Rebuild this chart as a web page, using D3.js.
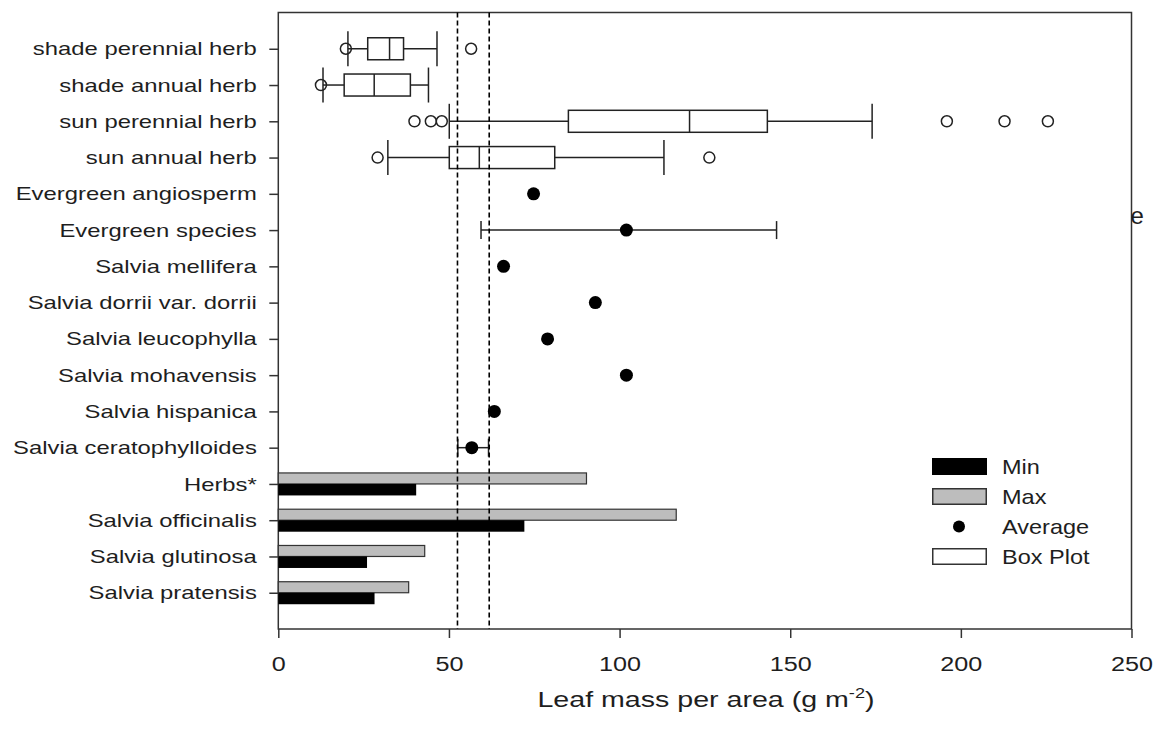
<!DOCTYPE html>
<html>
<head>
<meta charset="utf-8">
<script src="https://cdn.jsdelivr.net/npm/d3@7"></script>
<style>
  body { margin: 0; background: #fff; }
  svg { display: block; font-family: "Liberation Sans", Arial, sans-serif; }
</style>
</head>
<body>
<svg id="chart" width="1157" height="733"></svg>
<script>
// box plot rows (top of chart)
const boxCategories = ["shade perennial herb", "shade annual herb", "sun perennial herb", "sun annual herb"];
const boxWhiskerLow = [20.4, 13.1, 50.1, 32.1];
const boxQ1 = [26.2, 19.3, 85.0, 50.1];
const boxMedian = [32.6, 28.1, 120.5, 58.9];
const boxQ3 = [36.7, 38.7, 143.3, 81.0];
const boxWhiskerHigh = [46.5, 44.0, 174.0, 113.0];
const boxOutliers = [[19.8, 56.5], [12.5], [39.9, 44.7, 47.9, 195.9, 212.8, 225.5], [29.1, 126.3]];

// average rows
const dotCategories = ["Evergreen angiosperm", "Evergreen species", "Salvia mellifera",
  "Salvia dorrii var. dorrii", "Salvia leucophylla", "Salvia mohavensis",
  "Salvia hispanica", "Salvia ceratophylloides"];
const dotAverages = [74.8, 102.0, 66.0, 92.9, 78.9, 102.0, 63.3, 56.7];
const dotErrLow = [null, 59.4, null, null, null, null, null, 52.6];
const dotErrHigh = [null, 146.0, null, null, null, null, null, 61.6];

// min / max bar rows
const barCategories = ["Herbs*", "Salvia officinalis", "Salvia glutinosa", "Salvia pratensis"];
const barMin = [40.4, 72.1, 26.0, 28.2];
const barMax = [90.3, 116.6, 42.9, 38.2];

const refLines = [52.5, 61.8];
const xTicks = [0, 50, 100, 150, 200, 250];
const legendLabels = ["Min", "Max", "Average", "Box Plot"];

const categories = boxCategories.concat(dotCategories, barCategories);

const svg = d3.select("#chart");
const ink = "#1e1e1e";

const plotTop = 12.5, plotBottom = 629;
const x = d3.scaleLinear().domain([0, 250]).range([278.3, 1131.5]);
const y = d3.scalePoint().domain(categories).range([plotTop, plotBottom]).padding(1);

// frame
svg.append("rect")
  .attr("x", x(0)).attr("y", plotTop)
  .attr("width", x(250) - x(0)).attr("height", plotBottom - plotTop)
  .attr("fill", "none").attr("stroke", "#333").attr("stroke-width", 1.5);

// bars
const bars = svg.append("g");
barCategories.forEach((c, i) => {
  const cy = y(c);
  bars.append("rect")
    .attr("x", x(0)).attr("y", cy - 11)
    .attr("width", x(barMax[i]) - x(0)).attr("height", 11)
    .attr("fill", "#bdbdbd").attr("stroke", "#333").attr("stroke-width", 1.2);
  bars.append("rect")
    .attr("x", x(0)).attr("y", cy)
    .attr("width", x(barMin[i]) - x(0)).attr("height", 11.5)
    .attr("fill", "#000");
});

// box plots
const boxes = svg.append("g").attr("stroke", "#222").attr("stroke-width", 1.5);
boxCategories.forEach((c, i) => {
  const cy = y(c);
  boxes.append("line").attr("x1", x(boxWhiskerLow[i])).attr("x2", x(boxQ1[i])).attr("y1", cy).attr("y2", cy);
  boxes.append("line").attr("x1", x(boxQ3[i])).attr("x2", x(boxWhiskerHigh[i])).attr("y1", cy).attr("y2", cy);
  [boxWhiskerLow[i], boxWhiskerHigh[i]].forEach(v => {
    boxes.append("line").attr("x1", x(v)).attr("x2", x(v)).attr("y1", cy - 17.5).attr("y2", cy + 17.5);
  });
  boxes.append("rect")
    .attr("x", x(boxQ1[i])).attr("y", cy - 11)
    .attr("width", x(boxQ3[i]) - x(boxQ1[i])).attr("height", 22)
    .attr("fill", "#fff");
  boxes.append("line").attr("x1", x(boxMedian[i])).attr("x2", x(boxMedian[i])).attr("y1", cy - 11).attr("y2", cy + 11);
  boxOutliers[i].forEach(v => {
    boxes.append("circle").attr("cx", x(v)).attr("cy", cy).attr("r", 5.5).attr("fill", "none");
  });
});

// averages with error bars
const dots = svg.append("g");
dotCategories.forEach((c, i) => {
  const cy = y(c);
  if (dotErrLow[i] != null) {
    const g = dots.append("g").attr("stroke", "#222").attr("stroke-width", 1.5);
    g.append("line").attr("x1", x(dotErrLow[i])).attr("x2", x(dotErrHigh[i])).attr("y1", cy).attr("y2", cy);
    [dotErrLow[i], dotErrHigh[i]].forEach(v => {
      g.append("line").attr("x1", x(v)).attr("x2", x(v)).attr("y1", cy - 9).attr("y2", cy + 9);
    });
  }
  dots.append("circle").attr("cx", x(dotAverages[i])).attr("cy", cy).attr("r", 6.5).attr("fill", "#000");
});

// dashed reference lines
svg.append("g").selectAll("line").data(refLines).join("line")
  .attr("x1", d => x(d)).attr("x2", d => x(d))
  .attr("y1", plotTop).attr("y2", plotBottom)
  .attr("stroke", "#000").attr("stroke-width", 1.6).attr("stroke-dasharray", "5,3");

// y axis
const sy = 1.255;
const yAxis = svg.append("g").attr("transform", `translate(${x(0)},0)`)
  .call(d3.axisLeft(y).tickSize(9).tickPadding(12));
yAxis.select(".domain").remove();
yAxis.selectAll("line").attr("stroke", "#333").attr("stroke-width", 1.5);
yAxis.selectAll("text")
  .attr("x", -21.5 / sy).attr("transform", `scale(${sy},1)`)
  .style("font-size", "19px").attr("fill", ink)
  .style("font-family", "'Liberation Sans', Arial, sans-serif");

// x axis
const xAxis = svg.append("g").attr("transform", `translate(0,${plotBottom})`)
  .call(d3.axisBottom(x).tickValues(xTicks).tickSize(9).tickPadding(18));
xAxis.select(".domain").remove();
xAxis.selectAll("line").attr("stroke", "#333").attr("stroke-width", 1.5);
xAxis.selectAll("text")
  .attr("transform", "scale(1.2,1)")
  .style("font-size", "21px").attr("fill", ink)
  .style("font-family", "'Liberation Sans', Arial, sans-serif");

// axis title
const title = svg.append("text")
  .attr("transform", "translate(706,707) scale(1.3,1)")
  .attr("text-anchor", "middle").attr("fill", ink)
  .style("font-size", "22px");
title.append("tspan").text("Leaf mass per area (g m");
title.append("tspan").text("-2").style("font-size", "14px").attr("dy", -9);
title.append("tspan").text(")").attr("dy", 9);

// legend
const legend = svg.append("g").attr("transform", "translate(932,458)");
legendLabels.forEach((lab, i) => {
  const ry = i * 30;
  if (lab === "Min") {
    legend.append("rect").attr("x", 0).attr("y", ry).attr("width", 55).attr("height", 17).attr("fill", "#000");
  } else if (lab === "Max") {
    legend.append("rect").attr("x", 0.75).attr("y", ry + 0.75).attr("width", 53.5).attr("height", 15.5)
      .attr("fill", "#bdbdbd").attr("stroke", "#333").attr("stroke-width", 1.5);
  } else if (lab === "Average") {
    legend.append("circle").attr("cx", 27).attr("cy", ry + 8.5).attr("r", 6).attr("fill", "#000");
  } else {
    legend.append("rect").attr("x", 0.75).attr("y", ry + 0.75).attr("width", 53.5).attr("height", 15.5)
      .attr("fill", "#fff").attr("stroke", "#333").attr("stroke-width", 1.5);
  }
  legend.append("text")
    .attr("transform", `translate(70,${ry + 16}) scale(1.12,1)`)
    .attr("fill", ink).style("font-size", "21px").text(lab);
});

// stray letter at the right edge
svg.append("text").attr("x", 1130.5).attr("y", 224)
  .attr("fill", ink).style("font-size", "24px").text("e");
</script>
</body>
</html>
